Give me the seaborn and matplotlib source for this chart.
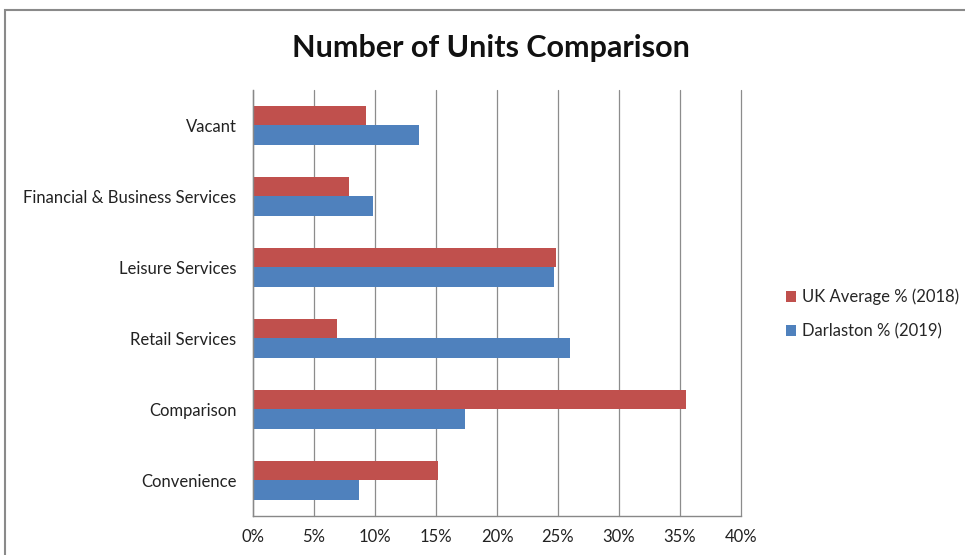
import matplotlib
matplotlib.use("Agg")
import matplotlib.pyplot as plt
import matplotlib.patches as mpatches
import numpy as np
import pandas as pd
import seaborn as sns

categories = ["Vacant", "Financial & Business Services", "Leisure Services",
              "Retail Services", "Comparison", "Convenience"]
uk_average_2018 = [9.3, 7.9, 24.8, 6.9, 35.5, 15.2]
darlaston_2019 = [13.6, 9.8, 24.7, 26.0, 17.4, 8.65]
series_names = ["UK Average % (2018)", "Darlaston % (2019)"]
series_colors = ["#C0504D", "#4F81BD"]
x_ticks = [0, 5, 10, 15, 20, 25, 30, 35, 40]

df = pd.DataFrame({
    "category": categories * 2,
    "value": uk_average_2018 + darlaston_2019,
    "series": [series_names[0]] * len(categories) + [series_names[1]] * len(categories),
})

sns.set_style("white")
plt.rcParams["font.family"] = ["Lato", "DejaVu Sans"]

fig = plt.figure(figsize=(9.65, 5.55), dpi=100)
ax = fig.add_axes([253 / 965, 39 / 555, 488 / 965, 426 / 555])

sns.barplot(data=df, y="category", x="value", hue="series", order=categories,
            hue_order=series_names, palette=series_colors, orient="h",
            width=0.54, gap=0, saturation=1, linewidth=0, ax=ax, legend=True)

ax.set_xlim(0, 40)
ax.set_ylim(len(categories) - 0.5, -0.5)
ax.set_xticks(x_ticks)
ax.set_xticklabels([f"{t}%" for t in x_ticks], fontsize=12, color="#222222")
ax.set_yticks(range(len(categories)))
ax.set_yticklabels(categories, fontsize=12, color="#222222")
ax.set_yticks(np.arange(-0.5, len(categories), 1), minor=True)
ax.tick_params(axis="y", which="major", length=0, pad=12)
ax.tick_params(axis="y", which="minor", length=5, color="#888888", width=1)
ax.tick_params(axis="x", which="major", length=5, color="#888888", width=1, pad=4)
ax.set_xlabel("")
ax.set_ylabel("")

ax.grid(axis="x", color="#8c8c8c", linewidth=0.9)
for gl in ax.get_xgridlines():
    gl.set_clip_on(False)
ax.set_axisbelow(True)
for side in ["top", "right"]:
    ax.spines[side].set_visible(False)
for side in ["left", "bottom"]:
    ax.spines[side].set_color("#888888")
    ax.spines[side].set_linewidth(1)

handles, labels = ax.get_legend_handles_labels()
ax.legend(handles, labels, loc="center left", bbox_to_anchor=(779 / 965, 1 - 314 / 555),
          bbox_transform=fig.transFigure, frameon=False, fontsize=12,
          handlelength=0.6, handleheight=0.6, handletextpad=0.4, labelspacing=1.05,
          borderaxespad=0)

fig.text(491 / 965, 1 - 48 / 555, "Number of Units Comparison", ha="center", va="center",
         fontsize=22, fontweight="bold", color="#111111")

# outer chart frame
fig.patches.append(mpatches.Rectangle((4.5 / 965, -0.05), 1.1, 1.05 - 10 / 555,
                                      transform=fig.transFigure, fill=False,
                                      edgecolor="#8a8a8a", linewidth=1.5))

fig.savefig("out.png", dpi=100)
